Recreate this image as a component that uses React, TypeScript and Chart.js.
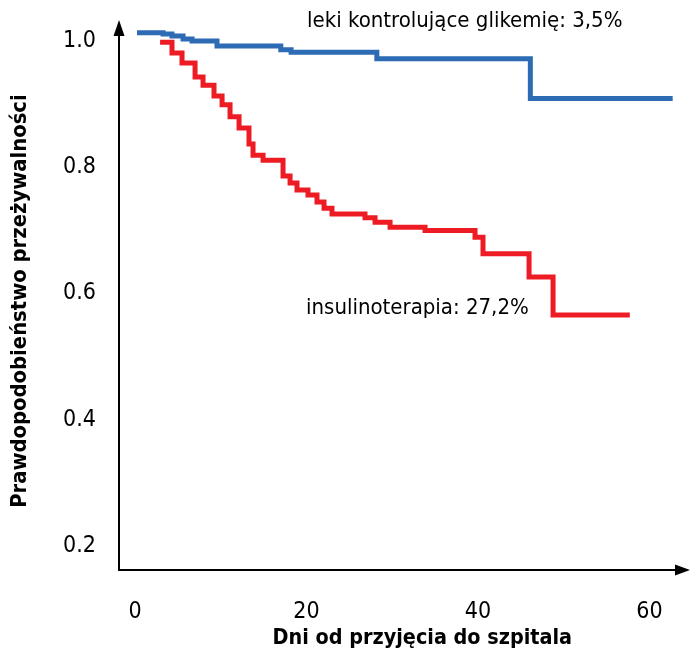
import React, { useEffect, useRef } from "react";
import { Chart, registerables } from "chart.js";

Chart.register(...registerables);

// ---- data (days since admission, survival probability) ----
const blueDays = [0.23, 3.27, 4.31, 5.6, 6.65, 9.56, 17.0, 18.2, 28.2, 46.1, 62.7];
const blueSurv = [1.013, 1.011, 1.008, 1.003, 1.0, 0.992, 0.986, 0.982, 0.972, 0.909, 0.909];

const redDays = [
  2.92, 4.31, 5.48, 7.0, 7.93, 9.21, 10.15, 11.08, 12.13, 13.29, 13.76, 14.93,
  17.26, 18.08, 18.89, 20.17, 21.22, 22.04, 22.97, 26.82, 27.99, 29.74, 33.82,
  39.65, 40.58, 45.95, 48.75, 57.7,
];
const redSurv = [
  0.998, 0.981, 0.965, 0.943, 0.93, 0.913, 0.899, 0.88, 0.862, 0.837, 0.819, 0.811,
  0.786, 0.775, 0.764, 0.756, 0.745, 0.735, 0.726, 0.72, 0.713, 0.705, 0.7,
  0.689, 0.663, 0.626, 0.566, 0.566,
];

const xTicks = [0, 20, 40, 60];
const yTicks = [0.2, 0.4, 0.6, 0.8, 1.0];

const xTitle = "Dni od przyjęcia do szpitala";
const yTitle = "Prawdopodobieństwo przeżywalności";
const blueLabel = "leki kontrolujące glikemię: 3,5%";
const redLabel = "insulinoterapia: 27,2%";

// label anchors in data coordinates
const blueLabelAt = { x: 20.06, y: 1.032 };
const redLabelAt = { x: 19.94, y: 0.577 };
// axis-title anchors in data coordinates (centre of the text)
const xTitleAt = { x: 33.5, y: 0.054 };
const yTitleAt = { x: -13.4, y: 0.588 };

const BLUE = "#2d6bb4";
const RED = "#ed1c24";
const FAMILY = "'DejaVu Sans Condensed', 'DejaVu Sans', sans-serif";

const axesPlugin = {
  id: "axesArrows",
  afterDraw(chart: any) {
    const { ctx, chartArea } = chart;
    const { left, right, top, bottom } = chartArea;
    ctx.save();
    ctx.strokeStyle = "#000";
    ctx.fillStyle = "#000";
    ctx.lineWidth = 2;
    ctx.beginPath();
    ctx.moveTo(left, bottom);
    ctx.lineTo(left, top + 10);
    ctx.moveTo(left - 1, bottom);
    ctx.lineTo(right - 10, bottom);
    ctx.stroke();
    // up arrow
    ctx.beginPath();
    ctx.moveTo(left, top - 2);
    ctx.lineTo(left - 5.5, top + 14);
    ctx.lineTo(left + 5.5, top + 14);
    ctx.closePath();
    ctx.fill();
    // right arrow
    ctx.beginPath();
    ctx.moveTo(right, bottom);
    ctx.lineTo(right - 15, bottom - 5.5);
    ctx.lineTo(right - 15, bottom + 5.5);
    ctx.closePath();
    ctx.fill();

    const xs = chart.scales.x;
    const ys = chart.scales.y;
    // series labels
    ctx.font = `22px ${FAMILY}`;
    ctx.textAlign = "left";
    ctx.textBaseline = "middle";
    ctx.fillStyle = "#000";
    ctx.fillText(blueLabel, xs.getPixelForValue(blueLabelAt.x), ys.getPixelForValue(blueLabelAt.y));
    ctx.fillText(redLabel, xs.getPixelForValue(redLabelAt.x), ys.getPixelForValue(redLabelAt.y));

    // axis titles
    ctx.textAlign = "center";
    ctx.font = `bold 21.4px ${FAMILY}`;
    ctx.fillText(xTitle, xs.getPixelForValue(xTitleAt.x), ys.getPixelForValue(xTitleAt.y));
    ctx.save();
    ctx.translate(xs.getPixelForValue(yTitleAt.x), ys.getPixelForValue(yTitleAt.y));
    ctx.rotate(-Math.PI / 2);
    ctx.font = `bold 21.8px ${FAMILY}`;
    ctx.fillText(yTitle, 0, 0);
    ctx.restore();
    ctx.restore();
  },
};

const zeroPad = (s: any) => {
  s.paddingTop = 0;
  s.paddingBottom = 0;
  s.paddingLeft = 0;
  s.paddingRight = 0;
};

export default function App() {
  const ref = useRef<HTMLCanvasElement>(null);
  useEffect(() => {
    const blueData = blueDays.map((d, i) => ({ x: d, y: blueSurv[i] }));
    const redData = redDays.map((d, i) => ({ x: d, y: redSurv[i] }));
    const lineStyle = {
      borderWidth: 5,
      stepped: "before",
      pointRadius: 0,
      fill: false,
      borderJoinStyle: "miter",
      borderCapStyle: "butt",
    };
    const chart = new Chart(ref.current as HTMLCanvasElement, {
      type: "line",
      data: {
        datasets: [
          { data: blueData, borderColor: BLUE, ...lineStyle },
          { data: redData, borderColor: RED, ...lineStyle },
        ],
      },
      options: {
        responsive: false,
        animation: false,
        events: [],
        layout: { padding: { left: 0, right: 1, top: 22, bottom: 0 } },
        plugins: { legend: { display: false }, tooltip: { enabled: false } },
        scales: {
          x: {
            type: "linear",
            min: -1.87,
            max: 64.72,
            grid: { display: false, drawTicks: false },
            border: { display: false },
            afterBuildTicks: (s: any) => {
              s.ticks = xTicks.map((v) => ({ value: v }));
            },
            afterFit: (s: any) => {
              s.height = 81;
              zeroPad(s);
            },
            ticks: {
              color: "#000",
              padding: 28,
              maxRotation: 0,
              autoSkip: false,
              font: { family: FAMILY, size: 23 },
              callback: (v: any) => String(v),
            },
          },
          y: {
            type: "linear",
            min: 0.162,
            max: 1.0301,
            grid: { display: false, drawTicks: false },
            border: { display: false },
            afterBuildTicks: (s: any) => {
              s.ticks = yTicks.map((v) => ({ value: v }));
            },
            afterFit: (s: any) => {
              s.width = 119;
              zeroPad(s);
            },
            ticks: {
              color: "#000",
              padding: 23,
              autoSkip: false,
              font: { family: FAMILY, size: 23 },
              callback: (v: any) => Number(v).toFixed(1),
            },
          },
        },
      },
      plugins: [axesPlugin],
    } as any);
    return () => chart.destroy();
  }, []);
  return (
    <div style={{ position: "absolute", left: 0, top: 0, width: 691, height: 651 }}>
      <canvas ref={ref} width={691} height={651} style={{ display: "block" }} />
    </div>
  );
}
